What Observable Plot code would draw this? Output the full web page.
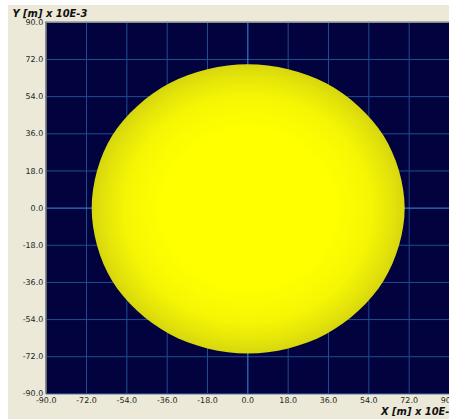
<!DOCTYPE html>
<html>
<head>
<meta charset="utf-8">
<script src="https://cdn.jsdelivr.net/npm/d3@7"></script>
<script src="https://cdn.jsdelivr.net/npm/@observablehq/plot@0.6"></script>
<style>
  html, body { margin: 0; padding: 0; background: #ffffff; width: 449px; height: 419px; overflow: hidden; }
  #panel { position: absolute; left: 8px; top: 5px; width: 441px; height: 414px; background: #ECE9D8; }
  #chart { position: absolute; left: 0; top: 0; }
</style>
</head>
<body>
<div id="panel"></div>
<div id="chart"></div>
<script>
// Tick values (both axes), in units of 10E-3 m
const ticks = [-90, -72, -54, -36, -18, 0, 18, 36, 54, 72, 90];
// Outline of the yellow point cloud (x, y in 10E-3 m)
const outlineX = [70, 60.6, 35, 0, -35, -60.6, -69.7, -60.6, -35, 0, 35, 60.6];
const outlineY = [0, 35, 60.5, 69.7, 60.5, 35, 0, -35.2, -61, -70.5, -61, -35.2];
const xLabel = "X [m] x 10E-3";
const yLabel = "Y [m] x 10E-3";

const outline = outlineX.map((x, i) => ({x, y: outlineY[i]}));
const fmt = d => d.toFixed(1);

const plot = Plot.plot({
  width: 452,
  height: 419,
  marginLeft: 46,
  marginRight: 0,
  marginTop: 22,
  marginBottom: 23,
  style: {fontFamily: "DejaVu Sans", fontSize: "8px", background: "transparent", color: "#222"},
  x: {domain: [-90, 90], ticks: ticks, tickFormat: fmt, tickSize: 0, tickPadding: 4, label: null},
  y: {domain: [-90, 90], ticks: ticks, tickFormat: fmt, tickSize: 0, tickPadding: 3, label: null},
  marks: [
    Plot.frame({fill: "#02023f", stroke: null}),
    Plot.ruleX(ticks.filter(d => d !== 0), {stroke: "#1f4f8f", strokeWidth: 1}),
    Plot.ruleY(ticks.filter(d => d !== 0), {stroke: "#1f4f8f", strokeWidth: 1}),
    Plot.ruleX([0], {stroke: "#3f8fdf", strokeWidth: 1}),
    Plot.ruleY([0], {stroke: "#3f8fdf", strokeWidth: 1}),
    Plot.line(outline, {x: "x", y: "y", curve: "catmull-rom-closed", fill: "url(#rimGrad)", stroke: "none"}),
    Plot.ruleX([-90], {stroke: "#6a6a6a", strokeWidth: 1.5}),
    Plot.ruleY([90], {stroke: "#8a8a8a", strokeWidth: 1.5}),
    Plot.axisX(ticks, {tickFormat: fmt, tickSize: 0, tickPadding: 4, fontSize: 8, fill: "#222"}),
    Plot.axisY(ticks, {tickFormat: fmt, tickSize: 0, tickPadding: 3, fontSize: 8, fill: "#222"}),
    Plot.text([yLabel], {frameAnchor: "top-left", dx: -34, dy: -8.5, textAnchor: "start", lineAnchor: "middle", fontSize: 10, fontWeight: "bold", fontStyle: "italic", fill: "#111"}),
    Plot.text([xLabel], {frameAnchor: "bottom-left", dx: 337, dy: 18, textAnchor: "start", lineAnchor: "middle", fontSize: 10, fontWeight: "bold", fontStyle: "italic", fill: "#111"})
  ]
});

const svg = d3.select(plot);
const defs = svg.insert("defs", ":first-child");
const g = defs.append("radialGradient").attr("id", "rimGrad").attr("cx", 0.5).attr("cy", 0.5).attr("r", 0.5);
[[0, "#ffff00"], [0.55, "#ffff00"], [0.78, "#f6f604"], [0.92, "#e4e40a"], [1, "#d6d610"]].forEach(([o, c]) =>
  g.append("stop").attr("offset", o).attr("stop-color", c));

document.getElementById("chart").appendChild(plot);
</script>
</body>
</html>
